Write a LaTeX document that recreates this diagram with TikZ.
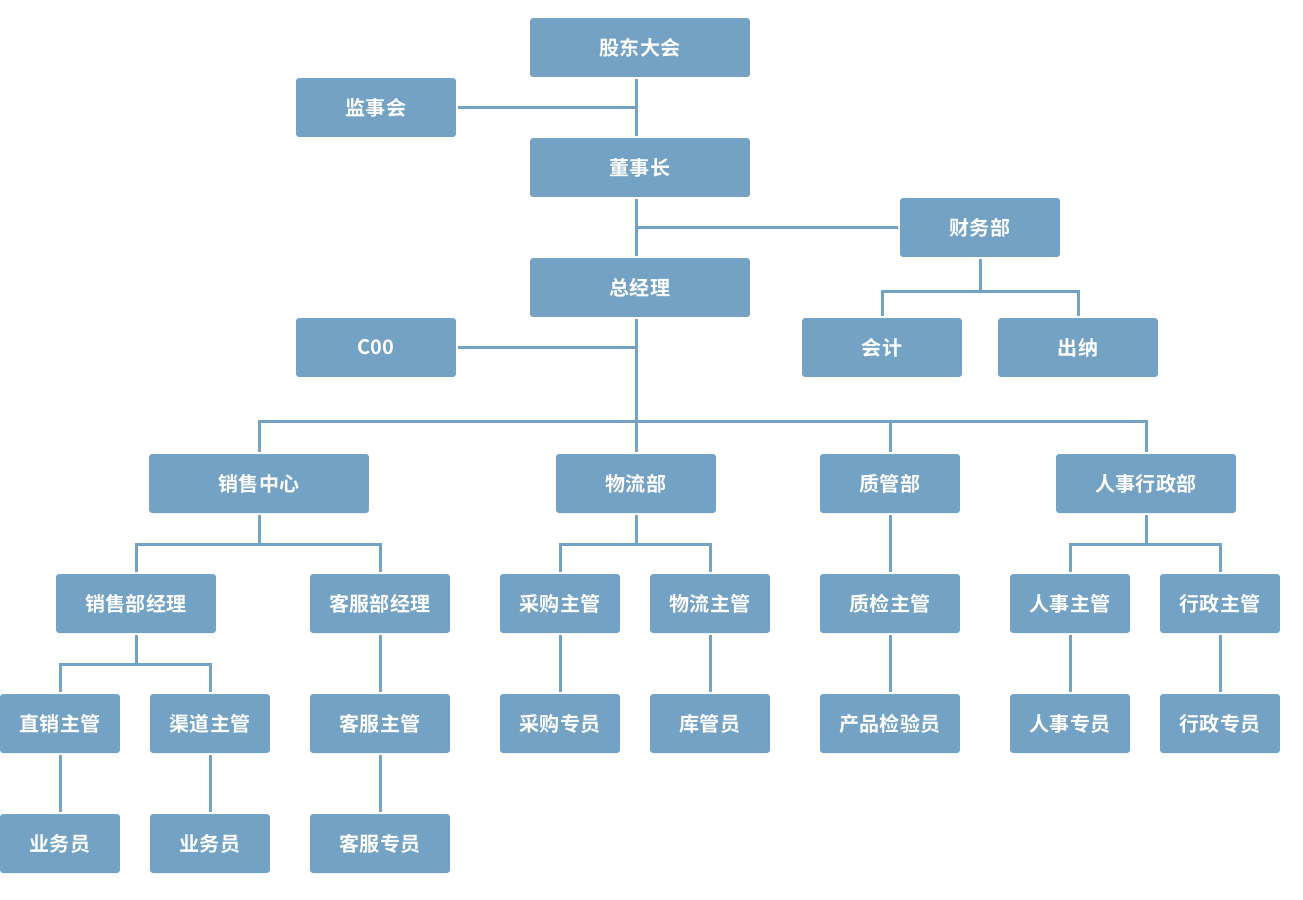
\documentclass[tikz,border=0pt]{standalone}
\usepackage{fontspec}
\usepackage{tikz}
\newfontfamily\cjk{Noto Sans CJK SC}[BoldFont={Noto Sans CJK SC Bold}]
\definecolor{boxblue}{RGB}{115,162,196}

\begin{document}
\begin{tikzpicture}[x=0.02cm, y=-0.02cm,
    box/.style={fill=boxblue, rounded corners=0.06cm, minimum height=1.18cm, inner sep=0pt, outer sep=0.035cm, text=white, font=\cjk\bfseries\fontsize{11.4pt}{13pt}\selectfont},
    w220/.style={box, minimum width=4.4cm},
    w180/.style={box, minimum width=3.6cm},
    w160/.style={box, minimum width=3.2cm},
    w140/.style={box, minimum width=2.8cm},
    w120/.style={box, minimum width=2.4cm},
    link/.style={draw=boxblue, line width=0.06cm}]

   \useasboundingbox (0,0) rectangle (1303,900);

   % top of the tree
   \node[w220] (gd) at (640,47.5) {股东大会};
   \node[w160] (jsh) at (376,107.5) {监事会};
   \node[w220] (dsz) at (640,167.5) {董事长};
   \node[w160] (cwb) at (980,227.5) {财务部};
   \node[w220] (zjl) at (640,287.5) {总经理};
   \node[w160] (coo) at (376,347.5) {C00};
   \node[w160] (kj) at (882,347.5) {会计};
   \node[w160] (cn) at (1078,347.5) {出纳};

   % departments
   \node[w220] (xszx) at (259,483.5) {销售中心};
   \node[w160] (wlb) at (636,483.5) {物流部};
   \node[w140] (zgb) at (890,483.5) {质管部};
   \node[w180] (rsxz) at (1146,483.5) {人事行政部};

   \node[w160] (xsjl) at (136,603.5) {销售部经理};
   \node[w140] (kfjl) at (380,603.5) {客服部经理};
   \node[w120] (cgzg) at (560,603.5) {采购主管};
   \node[w120] (wlzg) at (710,603.5) {物流主管};
   \node[w140] (zjzg) at (890,603.5) {质检主管};
   \node[w120] (rszg) at (1070,603.5) {人事主管};
   \node[w120] (xzzg) at (1220,603.5) {行政主管};

   \node[w120] (zxzg) at (60,723.5) {直销主管};
   \node[w120] (qdzg) at (210,723.5) {渠道主管};
   \node[w140] (kfzg) at (380,723.5) {客服主管};
   \node[w120] (cgzy) at (560,723.5) {采购专员};
   \node[w120] (kgy) at (710,723.5) {库管员};
   \node[w140] (cpjy) at (890,723.5) {产品检验员};
   \node[w120] (rszy) at (1070,723.5) {人事专员};
   \node[w120] (xzzy) at (1220,723.5) {行政专员};

   \node[w120] (ywya) at (60,843.5) {业务员};
   \node[w120] (ywyb) at (210,843.5) {业务员};
   \node[w140] (kfzy) at (380,843.5) {客服专员};

   \coordinate (cwbus) at (980,291);
   \coordinate (bus) at (636,421.5);
   \coordinate (xsbus) at (259,544);
   \coordinate (wlbus) at (636,544);
   \coordinate (rsbus) at (1146,544);
   \coordinate (xsjlbus) at (136,664);

   % connectors
   \draw[link] (gd.south -| wlb) -- (dsz.north -| wlb);
   \draw[link] (jsh.east) -- (jsh.east -| wlb);
   \draw[link] (dsz.south -| wlb) -- (zjl.north -| wlb);
   \draw[link] (cwb.west) -- (cwb.west -| wlb);
   \draw[link] (cwb.south) -- (cwbus);
   \draw[link] (kj.north) |- (cwbus) -| (cn.north);
   \draw[link] (zjl.south -| wlb) -- (wlb.north);
   \draw[link] (coo.east) -- (coo.east -| wlb);
   \draw[link] (xszx.north) |- (bus) -| (rsxz.north);
   \draw[link] (zgb.north) -- (zgb.north |- bus);

   \draw[link] (xszx.south) -- (xsbus);
   \draw[link] (xsjl.north) |- (xsbus) -| (kfjl.north);
   \draw[link] (wlb.south) -- (wlbus);
   \draw[link] (cgzg.north) |- (wlbus) -| (wlzg.north);
   \draw[link] (rsxz.south) -- (rsbus);
   \draw[link] (rszg.north) |- (rsbus) -| (xzzg.north);
   \draw[link] (xsjl.south) -- (xsjlbus);
   \draw[link] (zxzg.north) |- (xsjlbus) -| (qdzg.north);

   \foreach \a/\b in {zgb/zjzg, kfjl/kfzg, zxzg/ywya, qdzg/ywyb, kfzg/kfzy,
                      cgzg/cgzy, wlzg/kgy, zjzg/cpjy, rszg/rszy, xzzg/xzzy}
      \draw[link] (\a.south) -- (\b.north);

\end{tikzpicture}
\end{document}
